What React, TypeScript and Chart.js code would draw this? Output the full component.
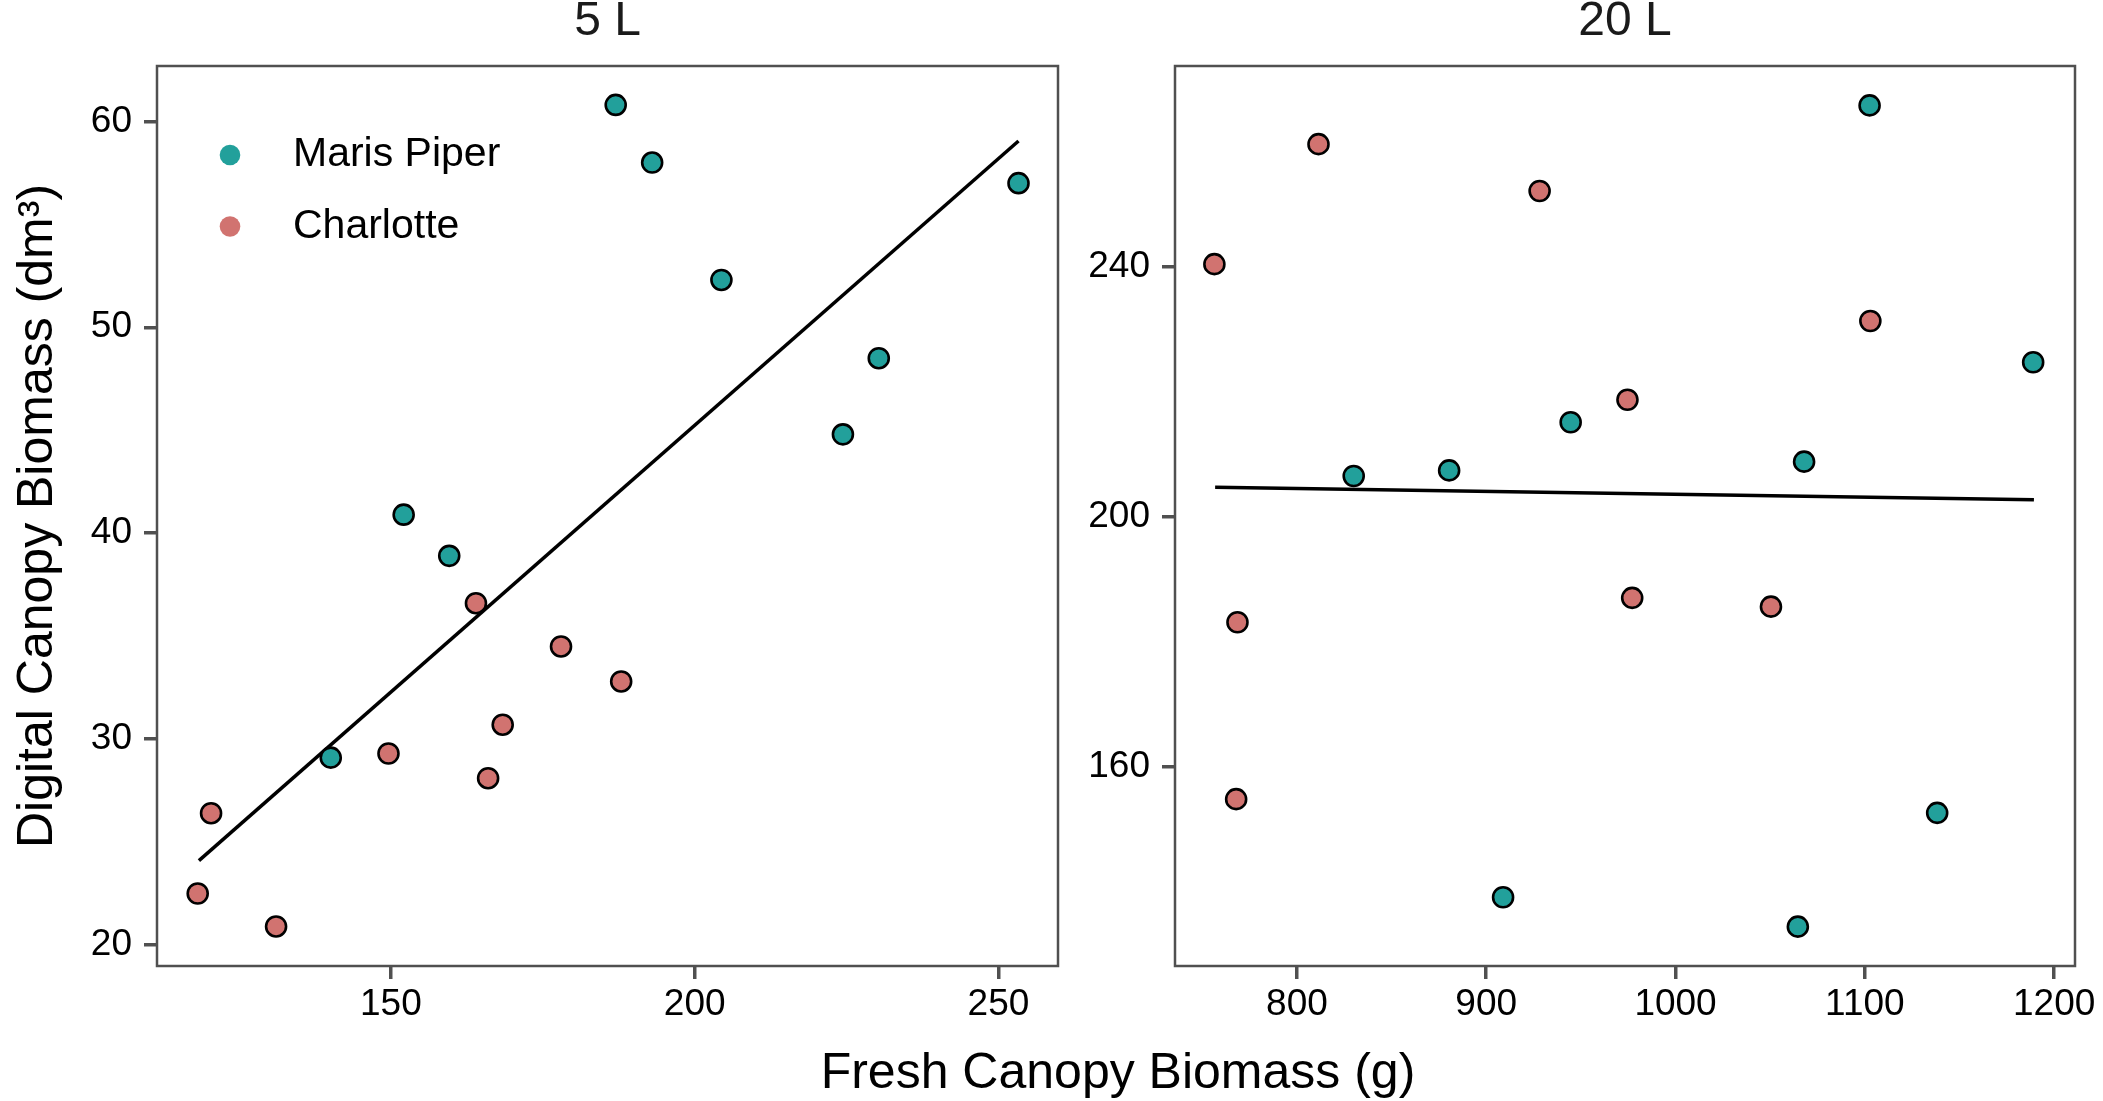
import React, { useEffect, useRef } from 'react'
import { Chart, registerables } from 'chart.js'

Chart.register(...registerables)

const TEAL = '#22A09B'
const RED = '#D17370'
const FRAME = '#505050'
const INK = '#000000'
const FONT = '"Liberation Sans", Arial, Helvetica, sans-serif'

// 5 L pots
const smallPiperX = [187.0, 193.0, 204.4, 253.3, 230.3, 224.4, 152.1, 159.6, 140.1]
const smallPiperY = [60.8, 58.0, 52.3, 57.0, 48.5, 44.8, 40.9, 38.9, 29.1]
const smallCharlotteX = [164.0, 178.0, 187.9, 168.4, 149.6, 166.0, 120.4, 118.2, 131.1]
const smallCharlotteY = [36.6, 34.5, 32.8, 30.7, 29.3, 28.1, 26.4, 22.5, 20.9]
const smallFitX = [118.4, 253.3]
const smallFitY = [24.1, 59.05]
const smallXTicks = [150, 200, 250]
const smallYTicks = [20, 30, 40, 50, 60]

// 20 L pots
const largePiperX = [1102.5, 1188.9, 944.6, 880.4, 830.0, 1067.9, 908.9, 1064.6, 1138.2]
const largePiperY = [265.8, 224.7, 215.1, 207.4, 206.5, 208.8, 139.1, 134.4, 152.6]
const largeCharlotteX = [811.4, 928.2, 756.4, 1102.9, 974.6, 977.1, 1050.4, 768.6, 767.9]
const largeCharlotteY = [259.6, 252.1, 240.4, 231.3, 218.7, 187.0, 185.6, 183.1, 154.8]
const largeFitX = [756.8, 1189.3]
const largeFitY = [204.7, 202.7]
const largeXTicks = [800, 900, 1000, 1100, 1200]
const largeYTicks = [160, 200, 240]

const legendLabels = ['Maris Piper', 'Charlotte']
const legendColors = [TEAL, RED]

type Pt = { x: number; y: number }
const zip = (xs: number[], ys: number[]): Pt[] => xs.map((x, i) => ({ x, y: ys[i] }))

const frameBox = {
  id: 'frameBox',
  afterDraw(chart: Chart) {
    const { ctx, chartArea: a } = chart
    ctx.save()
    ctx.strokeStyle = FRAME
    ctx.lineWidth = 2.5
    ctx.strokeRect(a.left, a.top, a.right - a.left, a.bottom - a.top)
    ctx.restore()
  },
}

// legend sits inside the top-left corner of the panel
const insetLegend = {
  id: 'insetLegend',
  afterDraw(chart: Chart) {
    const { ctx, chartArea: a } = chart
    ctx.save()
    ctx.font = `41px ${FONT}`
    ctx.textBaseline = 'middle'
    ctx.textAlign = 'left'
    legendLabels.forEach((label, i) => {
      const cy = a.top + 89 + i * 71.5
      ctx.beginPath()
      ctx.arc(a.left + 73, cy, 10.3, 0, Math.PI * 2)
      ctx.fillStyle = legendColors[i]
      ctx.fill()
      ctx.fillStyle = INK
      ctx.fillText(label, a.left + 136, cy)
    })
    ctx.restore()
  },
}

interface PanelProps {
  title: string
  piper: Pt[]
  charlotte: Pt[]
  fit: Pt[]
  xRange: [number, number]
  yRange: [number, number]
  xTicks: number[]
  yTicks: number[]
  yTitle?: string
  legend?: boolean
  yAxisWidth: number
  padRight: number
  style: React.CSSProperties
}

function Panel(p: PanelProps) {
  const canvasRef = useRef<HTMLCanvasElement>(null)

  useEffect(() => {
    if (!canvasRef.current) return
    const tickFont = { family: FONT, size: 37 }
    const tickGrid = {
      drawOnChartArea: false,
      drawTicks: true,
      tickLength: 13,
      tickWidth: 3.5,
      lineWidth: 3.5,
      tickColor: FRAME,
      color: FRAME,
    }
    const plain = (v: number | string) => String(v)
    const chart = new Chart(canvasRef.current, {
      type: 'scatter',
      data: {
        datasets: [
          {
            type: 'line',
            data: p.fit,
            borderColor: INK,
            borderWidth: 3.5,
            pointRadius: 0,
            fill: false,
            tension: 0,
            order: 3,
          },
          {
            type: 'scatter',
            data: p.charlotte,
            backgroundColor: RED,
            borderColor: INK,
            borderWidth: 2.6,
            pointRadius: 10,
            order: 2,
          },
          {
            type: 'scatter',
            data: p.piper,
            backgroundColor: TEAL,
            borderColor: INK,
            borderWidth: 2.6,
            pointRadius: 10,
            order: 1,
          },
        ],
      } as any,
      options: {
        responsive: true,
        maintainAspectRatio: false,
        animation: false,
        layout: { padding: { left: 0, top: 0, bottom: 0, right: p.padRight } },
        plugins: {
          legend: { display: false },
          tooltip: { enabled: false },
          title: {
            display: true,
            text: p.title,
            fullSize: false,
            color: '#1a1a1a',
            font: { family: FONT, size: 48, weight: 'normal', lineHeight: 0.92 },
            padding: { top: 0, bottom: 21.84 },
          },
        },
        scales: {
          x: {
            type: 'linear',
            min: p.xRange[0],
            max: p.xRange[1],
            afterBuildTicks: (s: any) => { s.ticks = p.xTicks.map((value) => ({ value })) },
            afterFit: (s: any) => { s.height = 74 },
            ticks: { color: INK, font: tickFont, padding: 4, maxRotation: 0, callback: plain },
            grid: tickGrid,
            border: { display: false },
          },
          y: {
            type: 'linear',
            min: p.yRange[0],
            max: p.yRange[1],
            afterBuildTicks: (s: any) => { s.ticks = p.yTicks.map((value) => ({ value })) },
            afterFit: (s: any) => { s.width = p.yAxisWidth },
            ticks: { color: INK, font: tickFont, padding: 12, callback: plain },
            grid: tickGrid,
            border: { display: false },
            title: {
              display: !!p.yTitle,
              text: p.yTitle ?? '',
              color: INK,
              font: { family: FONT, size: 50 },
              padding: { top: 8, bottom: 0 },
            },
          },
        },
      } as any,
      plugins: p.legend ? [frameBox, insetLegend] : [frameBox],
    })
    return () => chart.destroy()
  }, [])

  return (
    <div style={{ position: 'absolute', ...p.style }}>
      <canvas ref={canvasRef} />
    </div>
  )
}

export default function App() {
  return (
    <div style={{ position: 'fixed', left: 0, top: 0, width: 2103, height: 1101, background: '#fff', overflow: 'hidden' }}>
      <Panel
        title="5 L"
        piper={zip(smallPiperX, smallPiperY)}
        charlotte={zip(smallCharlotteX, smallCharlotteY)}
        fit={zip(smallFitX, smallFitY)}
        xRange={[111.5, 259.8]}
        yRange={[18.98, 62.69]}
        xTicks={smallXTicks}
        yTicks={smallYTicks}
        yTitle="Digital Canopy Biomass (dm³)"
        legend
        yAxisWidth={157}
        padRight={32}
        style={{ left: 0, top: 0, width: 1090, height: 1040 }}
      />
      <Panel
        title="20 L"
        piper={zip(largePiperX, largePiperY)}
        charlotte={zip(largeCharlotteX, largeCharlotteY)}
        fit={zip(largeFitX, largeFitY)}
        xRange={[735.6, 1211]}
        yRange={[128.1, 272.1]}
        xTicks={largeXTicks}
        yTicks={largeYTicks}
        yAxisWidth={95}
        padRight={28}
        style={{ left: 1080, top: 0, width: 1023, height: 1040 }}
      />
      <div
        style={{
          position: 'absolute',
          left: 618,
          width: 1000,
          top: 1041,
          textAlign: 'center',
          fontFamily: FONT,
          fontSize: 50,
          lineHeight: '60px',
          color: INK,
          whiteSpace: 'nowrap',
        }}
      >
        Fresh Canopy Biomass (g)
      </div>
    </div>
  )
}
